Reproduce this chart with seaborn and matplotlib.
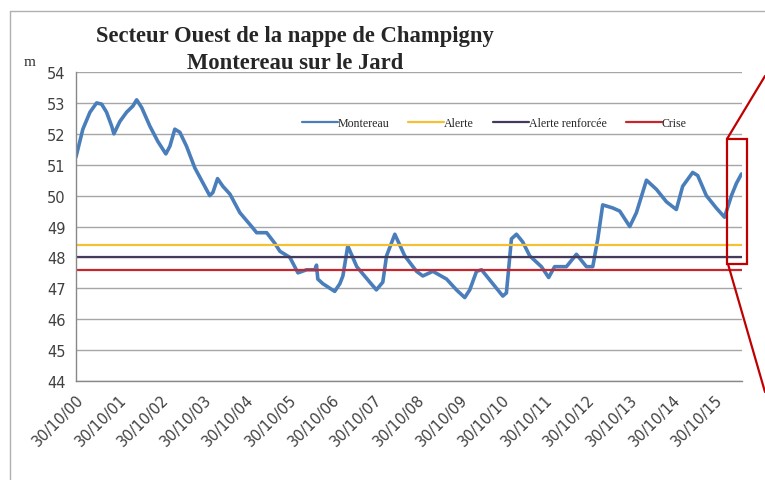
import seaborn as sns
import pandas as pd
import numpy as np
import matplotlib.pyplot as plt
import matplotlib.dates as mdates
from matplotlib.lines import Line2D
from matplotlib.patches import Rectangle

# piezometric level at Montereau sur le Jard
dates = ["2000-10-30", "2000-12-28", "2001-02-27", "2001-04-25", "2001-06-07", "2001-07-19",
         "2001-09-01", "2001-09-20", "2001-11-10", "2002-01-07", "2002-03-02", "2002-04-03",
         "2002-05-16", "2002-07-25", "2002-10-02", "2002-12-09", "2003-01-13", "2003-02-24",
         "2003-04-08", "2003-06-04", "2003-08-14", "2003-10-10", "2003-12-20", "2004-01-16",
         "2004-02-25", "2004-04-11", "2004-06-10", "2004-09-03", "2004-12-13", "2005-01-25",
         "2005-04-21", "2005-07-01", "2005-08-12", "2005-11-06", "2006-01-14", "2006-03-29",
         "2006-06-08", "2006-06-22", "2006-07-03", "2006-08-15", "2006-11-25", "2007-01-08",
         "2007-02-03", "2007-03-17", "2007-06-02", "2007-09-21", "2007-11-17", "2008-01-11",
         "2008-02-12", "2008-04-23", "2008-07-17", "2008-10-26", "2008-12-19", "2009-03-15",
         "2009-07-10", "2009-10-03", "2009-12-13", "2010-01-25", "2010-03-24", "2010-05-06",
         "2010-08-10", "2010-11-04", "2010-12-05", "2011-01-17", "2011-03-01", "2011-04-24",
         "2011-06-23", "2011-10-01", "2011-12-02", "2012-01-22", "2012-05-02", "2012-07-27",
         "2012-10-21", "2012-12-14", "2013-01-26", "2013-03-09", "2013-06-03", "2013-08-02",
         "2013-10-27", "2013-12-23", "2014-03-19", "2014-06-13", "2014-09-06", "2014-11-30",
         "2015-01-23", "2015-04-19", "2015-06-01", "2015-08-14", "2015-11-07", "2016-01-17",
         "2016-03-16", "2016-04-28", "2016-06-10"]
niveau = [51.25, 52.15, 52.7, 53.0, 52.96, 52.7,
          52.25, 52.0, 52.4, 52.7, 52.9, 53.1,
          52.85, 52.25, 51.75, 51.35, 51.6, 52.15,
          52.05, 51.6, 50.9, 50.5, 50.0, 50.1,
          50.55, 50.3, 50.05, 49.45, 49.0, 48.8,
          48.8, 48.45, 48.2, 48.0, 47.5, 47.6,
          47.6, 47.75, 47.3, 47.15, 46.9, 47.15,
          47.4, 48.37, 47.7, 47.2, 46.95, 47.2,
          48.05, 48.75, 48.05, 47.55, 47.4, 47.55,
          47.3, 46.95, 46.7, 46.95, 47.55, 47.6,
          47.15, 46.75, 46.85, 48.6, 48.75, 48.5,
          48.05, 47.7, 47.35, 47.7, 47.7, 48.1,
          47.7, 47.7, 48.6, 49.7, 49.6, 49.5,
          49.0, 49.45, 50.5, 50.2, 49.8, 49.55,
          50.3, 50.75, 50.65, 50.0, 49.6, 49.3,
          50.0, 50.4, 50.7]

seuils = ["Alerte", "Alerte renforcée", "Crise"]
seuil_values = [48.4, 48.0, 47.6]

df = pd.DataFrame({"date": pd.to_datetime(dates), "niveau": niveau})

sns.set_theme(style="white")
plt.rcParams['font.family'] = ['DejaVu Sans']

fig = plt.figure(figsize=(7.65, 4.81), dpi=100)
ax = fig.add_axes([0.0993, 0.2058, 0.8707, 0.6424])

sns.lineplot(data=df, x="date", y="niveau", ax=ax, color="#4a7ebb", linewidth=2.6, label="Montereau")
seuil_colors = ["#f5c033", "#453a5c", "#c8262c"]
for name, val, col in zip(seuils, seuil_values, seuil_colors):
    ax.axhline(val, color=col, linewidth=1.6, label=name)

ax.set_ylim(44, 54)
ax.set_yticks(range(44, 55))
ax.set_xlim(pd.Timestamp("2000-10-30"), pd.Timestamp("2016-06-15"))
ticks = pd.date_range("2000-10-30", periods=16, freq=pd.DateOffset(years=1))
ax.set_xticks(ticks)
ax.xaxis.set_major_formatter(mdates.DateFormatter("%d/%m/%y"))
plt.setp(ax.get_xticklabels(), rotation=45, ha="right", rotation_mode="anchor")
ax.tick_params(axis="both", labelsize=10.5, colors="#404040", length=4, width=0.8, direction="out")
ax.tick_params(axis="both", color="#888888")
ax.yaxis.grid(True, color="#a6a6a6", linewidth=1)
ax.set_axisbelow(True)
ax.set_xlabel("")
ax.set_ylabel("")
for s in ["top", "right"]:
    ax.spines[s].set_visible(False)
for s in ["left", "bottom"]:
    ax.spines[s].set_color("#888888")
    ax.spines[s].set_linewidth(1)

leg = ax.legend(loc="center", bbox_to_anchor=(0.628, 0.835), ncol=4, frameon=False,
                prop={"family": "Liberation Serif", "size": 8.6},
                handlelength=3.0, handletextpad=0.0, columnspacing=1.6)
for h in leg.get_lines():
    h.set_linewidth(1.6)

fig.text(0.386, 0.925, "Secteur Ouest de la nappe de Champigny", ha="center", va="center",
         family="Liberation Serif", weight="bold", fontsize=16.3)
fig.text(0.386, 0.869, "Montereau sur le Jard", ha="center", va="center",
         family="Liberation Serif", weight="bold", fontsize=16.3)
fig.text(0.039, 0.871, "m", ha="center", va="center", family="Liberation Serif",
         fontsize=11, color="#303030")

# chart frame (light gray)
W, H = 765, 481
fig.add_artist(Line2D([10 / W, 10 / W], [1 - 12 / H, 0], color="#b0b0b0", lw=1))
fig.add_artist(Line2D([10 / W, 1], [1 - 12 / H, 1 - 12 / H], color="#b0b0b0", lw=1))

# red zoom callout
fig.add_artist(Rectangle((727 / W, 1 - 265 / H), 20 / W, 125 / H, fill=False,
                         edgecolor="#c00000", lw=1.6))
fig.add_artist(Line2D([727 / W, 1], [1 - 140 / H, 1 - 77 / H], color="#c00000", lw=1.6))
fig.add_artist(Line2D([728 / W, 1], [1 - 265 / H, 1 - 393 / H], color="#c00000", lw=1.6))

fig.savefig("out.png", dpi=100)
